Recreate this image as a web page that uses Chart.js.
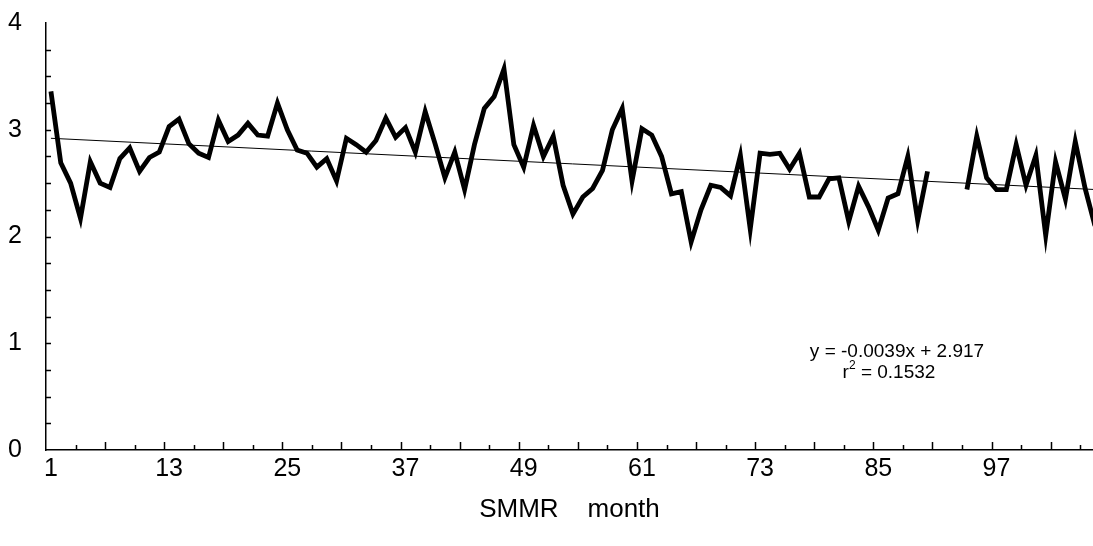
<!DOCTYPE html>
<html>
<head>
<meta charset="utf-8">
<script src="https://cdn.jsdelivr.net/npm/chart.js@4/dist/chart.umd.min.js"></script>
<style>
  html, body { margin: 0; padding: 0; background: #fff; }
  #wrap { width: 1093px; height: 546px; }
</style>
</head>
<body>
<div id="wrap"><canvas id="chart" width="1093" height="546"></canvas></div>
<script>
// monthly values (months 91-93 missing)
const months = [];
for (let m = 1; m <= 107; m++) months.push(m);

const values = [
  3.36, 2.69, 2.50, 2.17, 2.70, 2.50, 2.46, 2.73, 2.83, 2.61,
  2.74, 2.79, 3.03, 3.10, 2.87, 2.78, 2.74, 3.09, 2.89, 2.95,
  3.06, 2.95, 2.94, 3.25, 3.00, 2.81, 2.78, 2.65, 2.73, 2.52,
  2.92, 2.86, 2.79, 2.90, 3.11, 2.93, 3.02, 2.79, 3.17, 2.87,
  2.55, 2.79, 2.44, 2.86, 3.20, 3.31, 3.57, 2.86, 2.65, 3.04,
  2.75, 2.94, 2.48, 2.21, 2.37, 2.45, 2.62, 3.00, 3.20, 2.52,
  3.01, 2.95, 2.75, 2.40, 2.42, 1.95, 2.25, 2.48, 2.46, 2.38,
  2.76, 2.07, 2.78, 2.77, 2.78, 2.63, 2.78, 2.37, 2.37, 2.54,
  2.55, 2.14, 2.47, 2.28, 2.06, 2.36, 2.40, 2.75, 2.15, 2.61,
  null, null, null, 2.44, 2.94, 2.55, 2.44, 2.44, 2.86, 2.48,
  2.76, 2.01, 2.70, 2.35, 2.89, 2.45, 2.10
];

// linear trend as drawn (end points)
const trendX = [1, 107];
const trendY = [2.92, 2.44];

const xLabels = [1, 13, 25, 37, 49, 61, 73, 85, 97];
const yLabels = [0, 1, 2, 3, 4];

const eqLines = ['y = -0.0039x + 2.917', 'r', '2', ' = 0.1532'];

const FONT = 'Arial, "Liberation Sans", sans-serif';

const innerTicks = {
  id: 'innerTicks',
  afterDraw(chart) {
    const { ctx, chartArea } = chart;
    const x = chart.scales.x, y = chart.scales.y;
    ctx.save();
    ctx.strokeStyle = '#000';
    ctx.lineWidth = 1.5;
    ctx.beginPath();
    // x axis: tick every 3 months, longer every 6
    for (let k = 1; 0.5 + 3 * k < x.max; k++) {
      const px = Math.round(x.getPixelForValue(0.5 + 3 * k)) + 0.5;
      const len = k % 2 === 0 ? 8 : 5;
      ctx.moveTo(px, chartArea.bottom);
      ctx.lineTo(px, chartArea.bottom - len);
    }
    // y axis: tick every 0.25
    for (let v = 0.25; v < 4; v += 0.25) {
      const py = Math.round(y.getPixelForValue(v)) + 0.5;
      ctx.moveTo(chartArea.left, py);
      ctx.lineTo(chartArea.left + 5, py);
    }
    ctx.stroke();

    // regression text
    ctx.fillStyle = '#000';
    ctx.textBaseline = 'middle';
    ctx.textAlign = 'center';
    ctx.font = '19px ' + FONT;
    const cx = x.getPixelForValue(86.9);
    const y1 = y.getPixelForValue(0.92);
    const y2 = y.getPixelForValue(0.72);
    ctx.fillText(eqLines[0], cx, y1);
    const w1 = ctx.measureText(eqLines[1]).width;
    ctx.font = '12px ' + FONT;
    const w2 = ctx.measureText(eqLines[2]).width;
    ctx.font = '19px ' + FONT;
    const w3 = ctx.measureText(eqLines[3]).width;
    let sx = cx - 8 - (w1 + w2 + w3) / 2;
    ctx.textAlign = 'left';
    ctx.fillText(eqLines[1], sx, y2);
    ctx.font = '12px ' + FONT;
    ctx.fillText(eqLines[2], sx + w1, y2 - 7);
    ctx.font = '19px ' + FONT;
    ctx.fillText(eqLines[3], sx + w1 + w2, y2);
    ctx.restore();
  }
};

new Chart(document.getElementById('chart'), {
  type: 'line',
  data: {
    datasets: [
      {
        label: 'SMMR',
        data: months.map((m, i) => ({ x: m, y: values[i] })),
        borderColor: '#000',
        borderWidth: 4.8,
        pointRadius: 0,
        tension: 0,
        spanGaps: false,
        borderJoinStyle: 'miter'
      },
      {
        label: 'trend',
        data: trendX.map((m, i) => ({ x: m, y: trendY[i] })),
        borderColor: '#000',
        borderWidth: 1,
        pointRadius: 0
      }
    ]
  },
  options: {
    responsive: false,
    animation: false,
    layout: { padding: { top: 23, right: 0, left: 0, bottom: 0 } },
    plugins: {
      legend: { display: false },
      tooltip: { enabled: false }
    },
    scales: {
      x: {
        type: 'linear',
        min: 0.5,
        max: 106.8,
        afterBuildTicks: (scale) => { scale.ticks = xLabels.map(v => ({ value: v })); },
        afterFit: (scale) => { scale.height = 96; },
        grid: { display: false, drawTicks: false },
        border: { display: true, color: '#000', width: 1.5 },
        ticks: {
          color: '#000',
          font: { family: FONT, size: 25 },
          padding: 4,
          maxRotation: 0,
          autoSkip: false
        },
        title: {
          display: true,
          text: 'SMMR    month',
          color: '#000',
          font: { family: FONT, size: 26 },
          padding: { top: 0, bottom: 21 }
        }
      },
      y: {
        min: 0,
        max: 4,
        afterBuildTicks: (scale) => { scale.ticks = yLabels.map(v => ({ value: v })); },
        afterFit: (scale) => { scale.width = 46; },
        grid: { display: false, drawOnChartArea: false, drawTicks: true, tickLength: 22, tickColor: 'rgba(0,0,0,0)' },
        border: { display: true, color: '#000', width: 1.5 },
        ticks: {
          color: '#000',
          font: { family: FONT, size: 25 },
          padding: 2
        }
      }
    }
  },
  plugins: [innerTicks]
});
</script>
</body>
</html>
